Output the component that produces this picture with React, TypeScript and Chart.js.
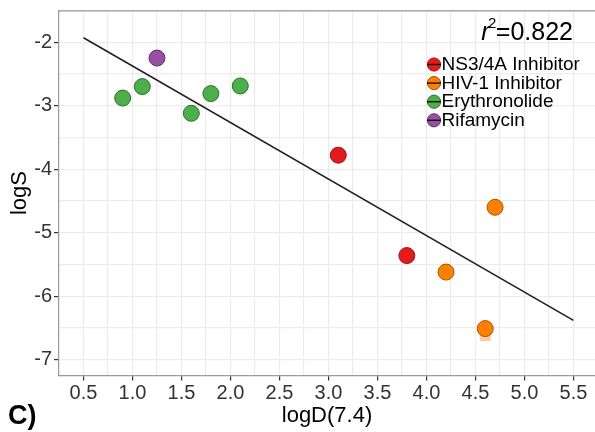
import React, { useEffect, useRef } from "react";
import { Chart, registerables } from "chart.js";

Chart.register(...registerables);

const FONT = "'Liberation Sans', Arial, Helvetica, sans-serif";

const seriesNames = ["NS3/4A Inhibitor", "HIV-1 Inhibitor", "Erythronolide", "Rifamycin"];
const seriesColors = ["#E41A1C", "#FF7F00", "#4DAF4A", "#984EA3"];
const seriesBorders = ["#9A1416", "#A85400", "#2F6E2D", "#5F3068"];

const ns3X = [3.1, 3.8];
const ns3Y = [-3.78, -5.36];
const hivX = [4.7, 4.2, 4.6];
const hivY = [-4.6, -5.62, -6.51];
const eryX = [0.9, 1.1, 1.6, 1.8, 2.1];
const eryY = [-2.88, -2.7, -3.12, -2.81, -2.69];
const rifX = [1.25];
const rifY = [-2.25];

const fitX = [0.5, 5.5];
const fitY = [-1.93, -6.38];

const ghostX = [4.6];
const ghostY = [-6.62];

const xGrid = [0.25, 0.5, 0.75, 1.0, 1.25, 1.5, 1.75, 2.0, 2.25, 2.5, 2.75, 3.0, 3.25, 3.5, 3.75, 4.0, 4.25, 4.5, 4.75, 5.0, 5.25, 5.5];
const xMajor = [0.5, 1.0, 1.5, 2.0, 2.5, 3.0, 3.5, 4.0, 4.5, 5.0, 5.5];
const yGrid = [-7, -6.5, -6, -5.5, -5, -4.5, -4, -3.5, -3, -2.5, -2, -1.5];
const yMajor = [-7, -6, -5, -4, -3, -2];

const rSquaredText = "=0.822";

const toPts = (xs: number[], ys: number[]) => xs.map((x, i) => ({ x, y: ys[i] }));
const isIn = (arr: number[], v: number) => arr.some((a) => Math.abs(a - v) < 1e-6);

const overlayPlugin = {
  id: "overlay",
  afterDraw(chart: any) {
    const ctx = chart.ctx as CanvasRenderingContext2D;
    const { left, right, top } = chart.chartArea;
    ctx.save();
    // top panel border
    ctx.strokeStyle = "#9a9a9a";
    ctx.lineWidth = 1.2;
    ctx.beginPath();
    ctx.moveTo(left, top + 0.5);
    ctx.lineTo(right, top + 0.5);
    ctx.stroke();

    // r^2 annotation
    ctx.fillStyle = "#000";
    ctx.textBaseline = "alphabetic";
    ctx.font = `25px ${FONT}`;
    const eqW = ctx.measureText(rSquaredText).width;
    const eqX = 573 - eqW;
    ctx.textAlign = "left";
    ctx.fillText(rSquaredText, eqX, 40);
    ctx.font = `15px ${FONT}`;
    const supW = ctx.measureText("2").width;
    ctx.fillText("2", eqX - supW + 0.5, 28);
    ctx.font = `italic 25px ${FONT}`;
    const rW = ctx.measureText("r").width;
    ctx.fillText("r", eqX - supW - rW + 2, 40);

    // legend
    const cx = 434;
    seriesNames.forEach((name, i) => {
      const cy = 64.5 + i * 18.6;
      ctx.beginPath();
      ctx.arc(cx, cy, 6.6, 0, Math.PI * 2);
      ctx.fillStyle = seriesColors[i];
      ctx.fill();
      ctx.strokeStyle = seriesBorders[i];
      ctx.lineWidth = 1;
      ctx.stroke();
      ctx.beginPath();
      ctx.strokeStyle = "#111";
      ctx.lineWidth = 1.4;
      ctx.moveTo(cx - 7, cy);
      ctx.lineTo(cx + 7, cy);
      ctx.stroke();
      ctx.fillStyle = "#000";
      ctx.font = `19px ${FONT}`;
      ctx.textBaseline = "middle";
      ctx.fillText(name, 441.5, cy + 0.5);
    });

    // panel label
    ctx.font = `bold 27px ${FONT}`;
    ctx.textBaseline = "alphabetic";
    ctx.fillStyle = "#000";
    ctx.fillText("C)", 8, 424);
    ctx.restore();
  },
};

export default function App() {
  const ref = useRef<HTMLCanvasElement | null>(null);

  useEffect(() => {
    document.body.style.margin = "0";
    if (!ref.current) return;
    const pointDs = seriesNames.map((name, i) => {
      const xs = [ns3X, hivX, eryX, rifX][i];
      const ys = [ns3Y, hivY, eryY, rifY][i];
      return {
        type: "scatter" as const,
        label: name,
        data: toPts(xs, ys),
        backgroundColor: seriesColors[i],
        borderColor: seriesBorders[i],
        borderWidth: 1,
        pointRadius: 8,
        order: 0,
      };
    });
    const chart = new Chart(ref.current, {
      type: "scatter",
      data: {
        datasets: [
          ...pointDs,
          {
            type: "line" as const,
            label: "fit",
            data: toPts(fitX, fitY),
            borderColor: "#222",
            borderWidth: 1.6,
            pointRadius: 0,
            fill: false,
            order: 1,
          } as any,
          {
            type: "scatter" as const,
            label: "ghost",
            data: toPts(ghostX, ghostY),
            pointStyle: "rect",
            pointRadius: 7.8,
            backgroundColor: "rgba(250,192,150,0.8)",
            borderWidth: 0,
            order: 2,
          },
        ],
      },
      options: {
        responsive: false,
        devicePixelRatio: 1,
        animation: false,
        layout: { autoPadding: false, padding: { top: 10.4, left: 0, right: 0, bottom: 0 } },
        plugins: { legend: { display: false }, tooltip: { enabled: false } },
        scales: {
          x: {
            type: "linear",
            min: 0.25,
            max: 5.72,
            afterBuildTicks: (ax: any) => {
              ax.ticks = xGrid.map((v) => ({ value: v }));
            },
            afterFit: (ax: any) => {
              ax.height = 56.4;
              ax.paddingLeft = 0;
              ax.paddingRight = 0;
            },
            ticks: {
              autoSkip: false,
              maxRotation: 0,
              minRotation: 0,
              padding: 1,
              color: "#333",
              font: { size: 20, family: FONT },
              callback: (v: any) => (isIn(xMajor, Number(v)) ? Number(v).toFixed(1) : ""),
            },
            grid: {
              color: "#ececec",
              lineWidth: 1.2,
              tickLength: 5,
              tickWidth: 1.2,
              tickColor: (c: any) => (c.tick && isIn(xMajor, c.tick.value) ? "#333" : "rgba(0,0,0,0)"),
            },
            border: { display: true, color: "#9a9a9a", width: 1.2 },
            title: {
              display: true,
              text: "logD(7.4)",
              color: "#000",
              font: { size: 22, family: FONT },
              padding: { top: 0, bottom: 2.8 },
            },
          },
          y: {
            type: "linear",
            min: -7.25,
            max: -1.5,
            afterBuildTicks: (ax: any) => {
              ax.ticks = yGrid.map((v) => ({ value: v }));
            },
            afterFit: (ax: any) => {
              ax.width = 59;
              ax.paddingTop = 0;
              ax.paddingBottom = 0;
            },
            ticks: {
              autoSkip: false,
              padding: 2,
              color: "#333",
              font: { size: 20, family: FONT },
              callback: (v: any) => (isIn(yMajor, Number(v)) ? String(Number(v)) : ""),
            },
            grid: {
              color: "#ececec",
              lineWidth: 1.2,
              tickLength: 5,
              tickWidth: 1.2,
              tickColor: (c: any) => (c.tick && isIn(yMajor, c.tick.value) ? "#333" : "rgba(0,0,0,0)"),
            },
            border: { display: true, color: "#9a9a9a", width: 1.2 },
            title: {
              display: true,
              text: "logS",
              color: "#000",
              font: { size: 22, family: FONT },
              padding: { top: 6.8, bottom: 0 },
            },
          },
        },
      },
      plugins: [overlayPlugin],
    });
    return () => chart.destroy();
  }, []);

  return (
    <div style={{ position: "absolute", left: 0, top: 0, width: 595, height: 432 }}>
      <canvas ref={ref} width={595} height={432} style={{ display: "block" }} />
    </div>
  );
}
